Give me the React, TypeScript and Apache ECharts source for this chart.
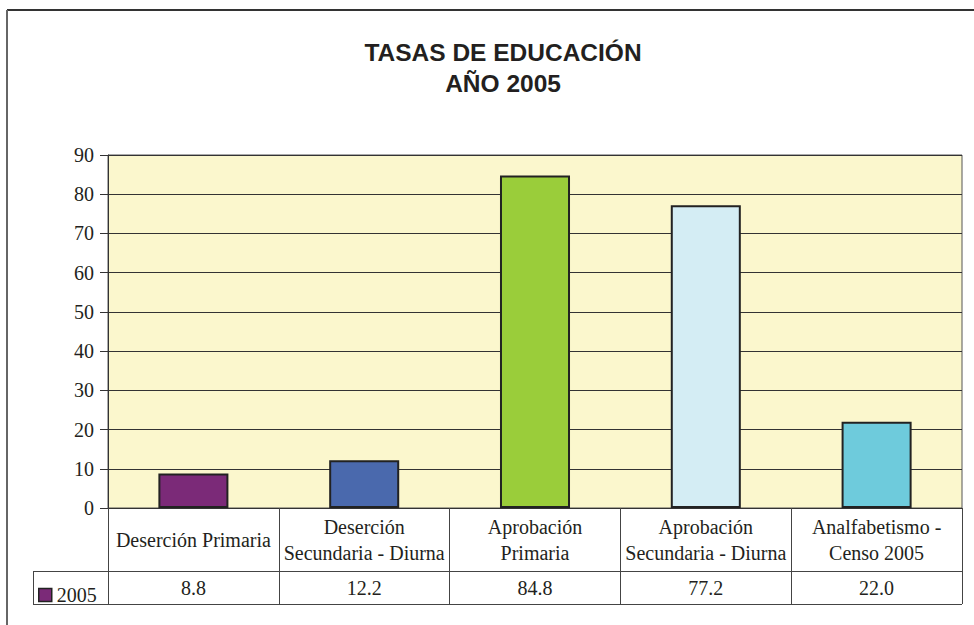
import React, { useEffect, useRef } from "react";
import * as echarts from "echarts";

const categories = [
  "Deserción Primaria",
  "Deserción\nSecundaria - Diurna",
  "Aprobación\nPrimaria",
  "Aprobación\nSecundaria - Diurna",
  "Analfabetismo -\nCenso 2005",
];
const values2005 = [8.8, 12.2, 84.8, 77.2, 22.0];
const barColors = ["#7B2A78", "#4A69AD", "#9ACD3A", "#D4EDF4", "#6ECBDC"];
const seriesName = "2005";
const titleLines = ["TASAS DE EDUCACIÓN", "AÑO 2005"];

const SERIF = "Liberation Serif";
const SANS = "Liberation Sans";
const TXT = "#231F20";

export default function App() {
  const ref = useRef<HTMLDivElement>(null);
  useEffect(() => {
    if (!ref.current) return;
    const chart = echarts.init(ref.current, null, { renderer: "svg" });
    chart.setOption({
      animation: false,
      backgroundColor: "#ffffff",
      title: {
        text: titleLines.join("\n"),
        left: 498,
        top: 32,
        textAlign: "center",
        textStyle: {
          fontFamily: SANS,
          fontWeight: "bold",
          fontSize: 24.5,
          lineHeight: 31,
          color: TXT,
        },
      },
      legend: {
        left: 33,
        top: 580,
        icon: "rect",
        itemWidth: 13,
        itemHeight: 13,
        itemGap: 4,
        data: [seriesName],
        itemStyle: { borderColor: "#222", borderWidth: 1.5 },
        textStyle: { fontFamily: SERIF, fontSize: 20, color: TXT, padding: [0, 0, 0, 0] },
      },
      grid: {
        left: 108,
        right: 12,
        top: 155,
        bottom: 117,
        show: true,
        backgroundColor: "#FBF7CD",
        borderColor: "#555",
        borderWidth: 1,
      },
      xAxis: [
        {
          type: "category",
          data: categories,
          gridIndex: 0,
          axisLine: { show: true, lineStyle: { color: "#333", width: 1 } },
          axisTick: { show: true, length: 96, lineStyle: { color: "#444", width: 1 } },
          axisLabel: {
            interval: 0,
            margin: 32,
            verticalAlign: "middle",
            fontFamily: SERIF,
            fontSize: 20,
            lineHeight: 26,
            color: TXT,
            align: "center",
          },
        },
        {
          type: "category",
          data: values2005.map((v) => v.toFixed(1)),
          gridIndex: 0,
          position: "bottom",
          axisLine: { show: false },
          axisTick: { show: false },
          axisLabel: {
            interval: 0,
            margin: 80,
            verticalAlign: "middle",
            fontFamily: SERIF,
            fontSize: 20,
            color: TXT,
          },
        },
      ],
      yAxis: {
        type: "value",
        min: 0,
        max: 90,
        interval: 10,
        axisLine: { show: true, lineStyle: { color: "#333", width: 1 } },
        axisTick: { show: true, length: 8, lineStyle: { color: "#333" } },
        splitLine: { show: true, lineStyle: { color: "#333", width: 1 } },
        axisLabel: { margin: 14, fontFamily: SERIF, fontSize: 20, color: TXT },
      },
      series: [
        {
          name: seriesName,
          type: "bar",
          xAxisIndex: 0,
          barWidth: "41%",
          itemStyle: { color: barColors[0], borderColor: "#222", borderWidth: 2 },
          data: values2005.map((v, i) => ({
            value: v,
            itemStyle: { color: barColors[i], borderColor: "#222", borderWidth: 2 },
          })),
        },
      ],
      graphic: [
        { type: "line", shape: { x1: 7, y1: 10, x2: 974, y2: 10 }, style: { stroke: "#333", lineWidth: 2 } },
        { type: "line", shape: { x1: 7, y1: 10, x2: 7, y2: 625 }, style: { stroke: "#666", lineWidth: 2 } },
        { type: "line", shape: { x1: 33, y1: 571.5, x2: 962, y2: 571.5 }, style: { stroke: "#444", lineWidth: 1 } },
        { type: "line", shape: { x1: 33, y1: 604.5, x2: 962, y2: 604.5 }, style: { stroke: "#444", lineWidth: 1 } },
        { type: "line", shape: { x1: 33.5, y1: 571, x2: 33.5, y2: 605 }, style: { stroke: "#444", lineWidth: 1 } },
      ],
    });
    return () => chart.dispose();
  }, []);
  return (
    <div
      ref={ref}
      style={{ position: "fixed", left: 0, top: 0, width: 974, height: 625 }}
    />
  );
}
